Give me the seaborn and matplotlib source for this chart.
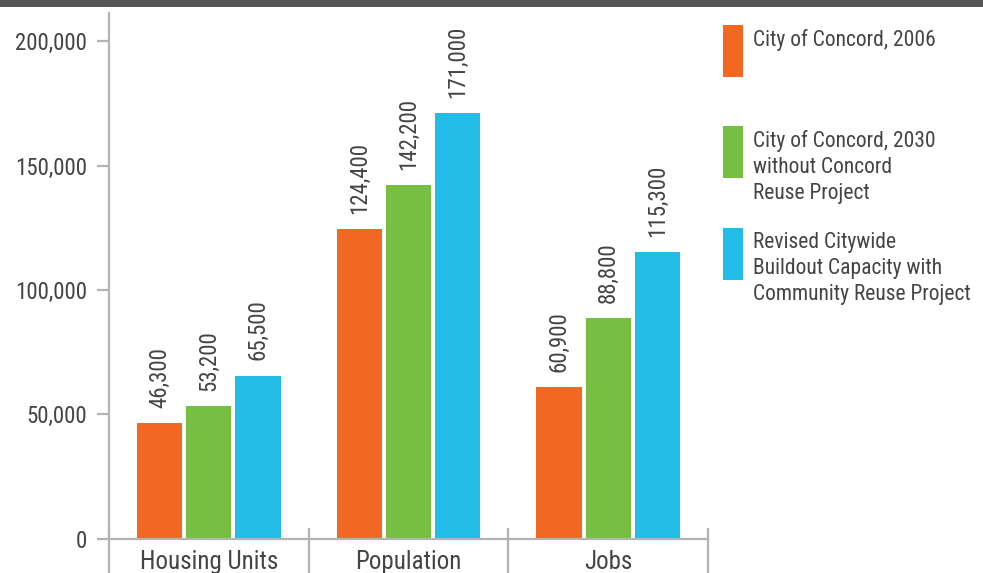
import matplotlib
matplotlib.use("Agg")
import matplotlib.pyplot as plt
from matplotlib import font_manager
from matplotlib.patches import Rectangle
import seaborn as sns
import pandas as pd

# ---- data ----
categories = ["Housing Units", "Population", "Jobs"]
series = ["City of Concord, 2006",
          "City of Concord, 2030\nwithout Concord\nReuse Project",
          "Revised Citywide\nBuildout Capacity with\nCommunity Reuse Project"]
values_2006 = [46300, 124400, 60900]
values_2030 = [53200, 142200, 88800]
values_revised = [65500, 171000, 115300]
yticks = [0, 50000, 100000, 150000, 200000]
colors = ["#F26722", "#76BF43", "#22BCE6"]

rows = []
for s, vals in zip(series, [values_2006, values_2030, values_revised]):
    for c, v in zip(categories, vals):
        rows.append({"category": c, "series": s, "value": v})
df = pd.DataFrame(rows)

sns.set_theme(style="white")

# pick a condensed font if available
font_family = "DejaVu Sans"
stretch = "condensed"
for cand in ["Roboto Condensed", "Liberation Sans Narrow", "Open Sans Condensed"]:
    try:
        font_manager.findfont(font_manager.FontProperties(family=cand), fallback_to_default=False)
        font_family = cand
        stretch = "normal"
        break
    except Exception:
        pass
plt.rcParams["font.family"] = [font_family, "DejaVu Sans"]
plt.rcParams["font.stretch"] = stretch

TXT = "#444444"
AX = "#b3b3b3"
FS = 16.5

W, H = 983, 573
fig = plt.figure(figsize=(W / 100, H / 100), dpi=100)
ax_left, ax_right = 109, 708
ax_top, ax_bottom = 13, 538.6
ax = fig.add_axes([ax_left / W, (H - ax_bottom) / H, (ax_right - ax_left) / W, (ax_bottom - ax_top) / H])

sns.barplot(data=df, x="category", y="value", hue="series", palette=colors,
            width=0.738, gap=0.08, saturation=1, legend=False, ax=ax, edgecolor="none")

ax.set_xlim(-0.5, 2.5)
ax.set_ylim(0, 211400)
ax.set_yticks(yticks)
ax.set_yticklabels([f"{v:,}" for v in yticks])
ax.set_xlabel("")
ax.set_ylabel("")

for sp in ["top", "right"]:
    ax.spines[sp].set_visible(False)
for sp in ["left", "bottom"]:
    ax.spines[sp].set_color(AX)
    ax.spines[sp].set_linewidth(1.6)

ax.tick_params(axis="y", direction="out", length=9, width=1.6, color=AX,
               labelcolor=TXT, labelsize=FS, pad=7, left=True)
ax.tick_params(axis="x", length=0, labelcolor=TXT, labelsize=18, pad=8.5)

# category separators
for xs in [-0.5, 0.5, 1.5, 2.5]:
    ax.plot([xs, xs], [0.021, -0.08], transform=ax.get_xaxis_transform(),
            color=AX, lw=1.6, clip_on=False, solid_capstyle="butt")

# value labels
for cont, vals in zip(ax.containers, [values_2006, values_2030, values_revised]):
    ax.bar_label(cont, labels=[f"{v:,}" for v in vals], rotation=90,
                 padding=11, color=TXT, fontsize=FS)

# top dark band
fig.patches.append(Rectangle((0, 1 - 7.3 / H), 1, 7.3 / H, transform=fig.transFigure,
                             facecolor="#555555", edgecolor="none"))

# legend
leg_y = [25, 126, 228]
for s, c, y in zip(series, colors, leg_y):
    fig.patches.append(Rectangle((723 / W, 1 - (y + 52) / H), 20 / W, 52 / H,
                                 transform=fig.transFigure, facecolor=c, edgecolor="none"))
    fig.text(753 / W, 1 - (y + 4) / H, s, color=TXT, fontsize=15.5, va="top", ha="left",
             linespacing=1.3)

fig.savefig("out.png", dpi=100)
